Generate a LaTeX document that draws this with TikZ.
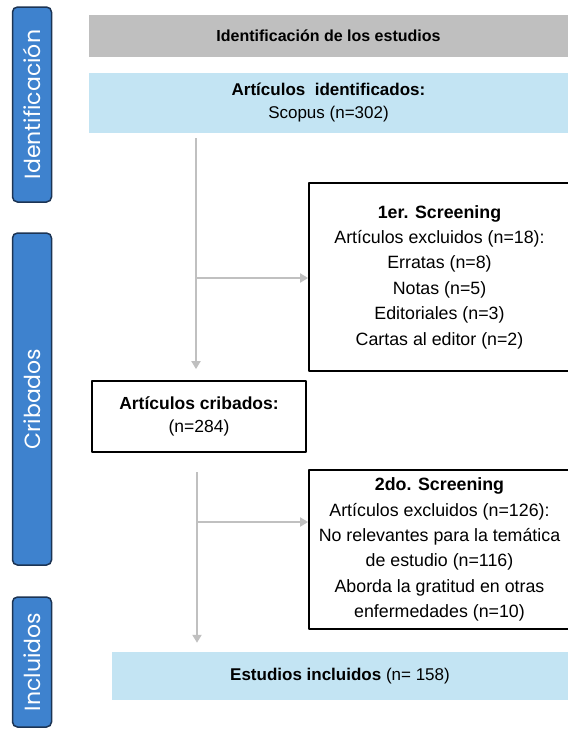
\documentclass[tikz,border=0pt]{standalone}
\usepackage{fontspec}
\setmainfont{Liberation Sans}
\newfontfamily\tabfont{Poppins}
\usetikzlibrary{arrows.meta}
\definecolor{hdrgray}{RGB}{191,191,191}
\definecolor{lightblue}{RGB}{195,228,243}
\definecolor{tabblue}{RGB}{62,130,206}
\definecolor{tabedge}{RGB}{28,52,84}
\definecolor{flowgray}{RGB}{192,192,192}
\begin{document}
\begin{tikzpicture}[x=1pt,y=-1pt,line join=round,
	every node/.style={inner sep=0pt,align=center},
	tab/.style={rotate=90,draw=tabedge,fill=tabblue,line width=1.5pt,rounded corners=5pt,minimum height=39pt,text=white,font=\tabfont\fontsize{22}{22}\selectfont},
	band/.style={fill=lightblue,font=\fontsize{17}{23}\selectfont},
	box/.style={draw,line width=1.8pt,font=\fontsize{17.8}{25.4}\selectfont},
	flow/.style={draw=flowgray,line width=2.6pt,-{Triangle[length=8pt,width=9pt]}}]
	 \useasboundingbox (0,0) rectangle (568,729);
	 \node[tab,minimum width=195pt] (tabid) at (32,104.5) {Identificación};
	 \node[tab,minimum width=332pt] (tabcrib) at (32,399) {Cribados};
	 \node[tab,minimum width=130pt] (tabincl) at (32,662) {Incluidos};
	 \node[fill=hdrgray,minimum width=479pt,minimum height=42pt,font=\bfseries\fontsize{16}{16}\selectfont] (head) at (328.5,36) {Identificación de los estudios};
	 \node[band,minimum width=479pt,minimum height=60pt] (ident) at (328.5,103) {{\bfseries Artículos\ \ identificados:}\\Scopus (n=302)};
	 \node[box,minimum width=261pt,minimum height=188pt] (scr1) at (439.5,277) {{\bfseries 1er. Screening}\\Artículos excluidos (n=18):\\Erratas (n=8)\\Notas (n=5)\\Editoriales (n=3)\\Cartas al editor (n=2)};
	 \node[box,minimum width=214pt,minimum height=71pt,font=\fontsize{17.5}{23}\selectfont] (crib) at (199,416.5) {{\bfseries Artículos cribados:}\\(n=284)};
	 \node[box,minimum width=261pt,minimum height=159pt] (scr2) at (439.5,549.5) {{\bfseries 2do. Screening}\\Artículos excluidos (n=126):\\No relevantes para la temática\\de estudio (n=116)\\Aborda la gratitud en otras\\enfermedades (n=10)};
	 \node[band,minimum width=456pt,minimum height=48pt] (incl) at (340,676) {\textbf{Estudios incluidos} (n= 158)};
	 \coordinate (t1) at (196,138);
	 \coordinate (b1) at (196,278);
	 \coordinate (t2) at (197,472);
	 \coordinate (b2) at (197,522);
	 \draw[flow,shorten >=11pt] (t1)--(t1|-crib.north);
	 \draw[flow] (b1)--(b1-|scr1.west);
	 \draw[flow,shorten >=9pt] (t2)--(t2|-incl.north);
	 \draw[flow] (b2)--(b2-|scr2.west);
\end{tikzpicture}
\end{document}
